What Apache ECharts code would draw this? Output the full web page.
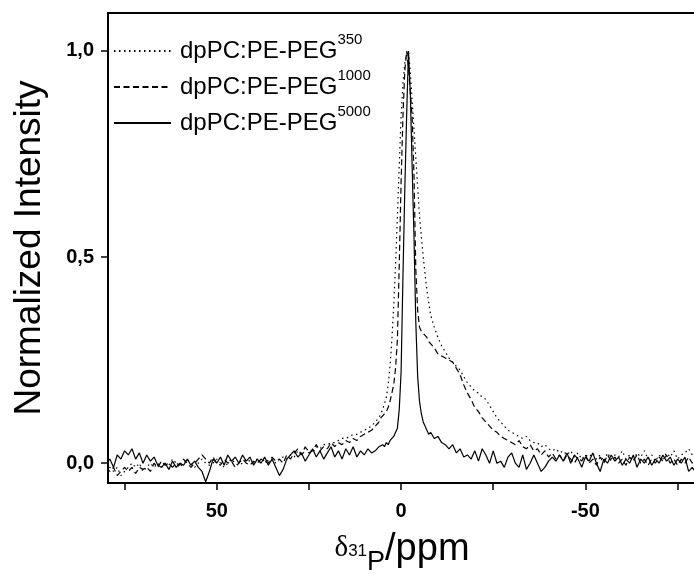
<!DOCTYPE html>
<html><head><meta charset="utf-8">
<script src="https://cdn.jsdelivr.net/npm/echarts@6/dist/echarts.min.js"></script>
<style>html,body{margin:0;padding:0;background:#fff}#c{width:694px;height:575px}</style>
</head><body><div id="c"></div>
<script>
// chemical shift axis (ppm), three segments
const ppmA = [80,79,78,77,76,75,74,73,72,71,70,69,68,67,66,65,64,63,62,61,60,59,58,57,56,55,54,53,52,51,50,49,48,47,46,45,44,43,42,41,40,39,38,37,36,35,34,33,32,31,30,29,28,27,26,25,24,23,22,21,20,19,18,17,16,15,14,13,12,11,10,9,8,7,6];
const ppmB = [5.5,5,4.5,4,3.5,3,2.5,2,1.5,1,0.5,0,-0.5,-1,-1.5,-2,-2.5,-3,-3.5,-4,-4.5,-5,-5.5,-6,-6.5,-7,-7.5,-8];
const ppmC = [-9,-10,-11,-12,-13,-14,-15,-16,-17,-18,-19,-20,-21,-22,-23,-24,-25,-26,-27,-28,-29,-30,-31,-32,-33,-34,-35,-36,-37,-38,-39,-40,-41,-42,-43,-44,-45,-46,-47,-48,-49,-50,-51,-52,-53,-54,-55,-56,-57,-58,-59,-60,-61,-62,-63,-64,-65,-66,-67,-68,-69,-70,-71,-72,-73,-74,-75,-76,-77,-78,-79,-80];

// dpPC:PE-PEG350 (dotted)
const peg350A = [0.00,-0.01,-0.02,-0.01,-0.03,-0.02,-0.01,0.00,-0.01,0.00,
 -0.02,-0.01,0.00,-0.01,0.00,-0.01,0.00,-0.005,0.01,0.00,
 -0.01,0.00,0.01,0.00,-0.01,0.00,0.01,0.00,-0.005,0.00,
 0.01,0.00,-0.01,0.00,0.01,0.00,-0.005,0.00,0.01,0.005,
 0.00,0.01,0.00,0.01,0.005,0.01,0.00,0.01,0.015,0.01,
 0.02,0.015,0.03,0.02,0.03,0.035,0.025,0.04,0.035,0.045,
 0.045,0.05,0.05,0.055,0.06,0.06,0.065,0.07,0.07,0.075,
 0.08,0.085,0.09,0.1,0.11];
const peg350B = [0.12,0.13,0.145,0.16,0.19,0.235,0.3,0.38,0.48,0.6,
 0.72,0.84,0.92,0.97,0.99,1.0,0.95,0.88,0.81,0.74,
 0.67,0.6,0.55,0.5,0.46,0.42,0.39,0.36];
const peg350C = [0.33,0.305,0.285,0.27,0.255,0.245,0.235,0.226,0.21,0.195,
 0.185,0.175,0.17,0.16,0.155,0.14,0.125,0.11,0.1,0.09,
 0.08,0.075,0.07,0.065,0.06,0.065,0.055,0.05,0.05,0.04,
 0.045,0.035,0.03,0.035,0.025,0.03,0.02,0.03,0.015,0.025,
 0.01,0.02,0.015,0.025,0.01,0.02,0.005,0.025,0.01,0.02,
 0.015,0.03,0.01,0.02,0.005,0.025,0.015,0.03,0.01,0.02,
 0.005,0.02,0.01,0.025,0.015,0.03,0.01,0.02,0.025,0.035,
 0.02,0.03];

// dpPC:PE-PEG1000 (dashed)
const peg1000A = [-0.01,-0.02,-0.01,-0.03,-0.02,-0.01,-0.02,-0.01,-0.025,-0.01,
 -0.015,-0.01,-0.02,0.00,-0.01,0.005,-0.005,0.00,-0.01,0.00,
 -0.005,0.01,0.00,-0.01,0.00,0.01,0.02,0.01,0.00,0.015,
 0.00,-0.005,0.01,0.00,0.005,-0.01,0.00,0.01,0.00,-0.005,
 0.005,0.00,0.01,0.005,0.00,0.015,0.005,0.01,0.00,0.02,
 0.01,0.025,0.035,0.02,0.04,0.025,0.03,0.045,0.03,0.04,
 0.035,0.05,0.04,0.05,0.045,0.055,0.05,0.06,0.055,0.065,
 0.07,0.075,0.08,0.09,0.1];
const peg1000B = [0.11,0.115,0.12,0.125,0.135,0.15,0.17,0.19,0.23,0.3,
 0.48,0.68,0.84,0.95,1.0,0.96,0.9,0.84,0.7,0.47,
 0.37,0.33,0.32,0.315,0.31,0.305,0.295,0.29];
const peg1000C = [0.28,0.265,0.26,0.255,0.25,0.245,0.23,0.215,0.19,0.17,
 0.155,0.135,0.125,0.11,0.1,0.09,0.08,0.075,0.065,0.06,
 0.055,0.05,0.045,0.055,0.04,0.035,0.045,0.03,0.035,0.02,
 0.03,0.015,0.025,0.01,0.02,0.005,0.02,0.01,0.0,0.015,
 0.005,0.02,0.0,0.01,-0.005,0.015,0.0,0.02,0.005,0.015,
 0.0,0.01,-0.005,0.015,0.005,0.02,0.0,0.01,-0.005,0.01,
 0.0,0.015,0.005,0.02,0.0,0.01,-0.005,0.01,0.0,0.015,
 0.0,0.01];

// dpPC:PE-PEG5000 (solid)
const peg5000A = [0.00,0.01,-0.01,0.02,0.01,0.03,0.02,0.035,0.01,0.025,
 0.00,0.02,0.005,0.015,-0.005,-0.01,0.00,-0.015,0.005,-0.01,
 0.00,-0.005,0.01,-0.005,0.005,-0.01,-0.02,-0.045,-0.02,0.01,
 0.00,0.015,-0.005,0.02,0.005,0.015,0.00,0.02,0.005,0.015,
 -0.005,0.01,0.00,0.015,-0.005,0.01,-0.01,-0.03,-0.015,0.01,
 0.02,0.03,0.015,0.025,0.005,0.02,0.035,0.015,0.03,0.01,
 0.025,0.04,0.015,0.03,0.01,0.035,0.02,0.04,0.015,0.03,
 0.02,0.035,0.025,0.03,0.04];
const peg5000B = [0.04,0.045,0.04,0.05,0.045,0.055,0.06,0.065,0.075,0.085,
 0.13,0.22,0.45,0.66,0.84,1.0,0.9,0.72,0.55,0.34,
 0.21,0.15,0.12,0.1,0.09,0.08,0.07,0.075];
const peg5000C = [0.06,0.065,0.05,0.045,0.035,0.045,0.025,0.035,0.015,0.02,
 0.01,0.03,0.005,0.035,0.02,0.0,0.03,0.0,0.005,-0.01,
 0.015,0.025,0.0,-0.01,0.02,-0.015,0.0,0.02,0.0,-0.02,
 -0.01,0.005,0.015,0.005,0.02,0.005,0.025,0.0,0.02,0.01,
 -0.01,0.015,0.005,0.025,0.0,-0.02,0.01,0.0,0.02,0.005,
 0.015,-0.005,0.01,0.0,0.02,-0.01,0.01,0.0,0.015,-0.005,
 0.01,0.0,0.02,0.005,0.015,-0.005,0.01,0.0,0.015,-0.02,
 -0.01,-0.025];

const seriesBase = ['dpPC:PE-PEG','dpPC:PE-PEG','dpPC:PE-PEG'];
const seriesSup = ['350','1000','5000'];
const xTickValues = [75,50,25,0,-25,-50,-75];
const xLabelValues = [50,0,-50];
const yLabelValues = [0,0.5,1];

const ppm = ppmA.concat(ppmB, ppmC);
const intensities = [
  peg350A.concat(peg350B, peg350C),
  peg1000A.concat(peg1000B, peg1000C),
  peg5000A.concat(peg5000B, peg5000C)
];
const dashes = [[1.5,3.5],[6,3.5],'solid'];
const names = seriesBase.map((b,i)=>b+seriesSup[i]);

const chart = echarts.init(document.getElementById('c'), null, {renderer:'canvas'});
chart.setOption({
  animation:false,
  backgroundColor:'#ffffff',
  grid:{left:108,right:-2,top:13,bottom:92,show:true,borderColor:'#000',borderWidth:2,outerBoundsMode:'none'},
  legend:{
    orient:'vertical', left:113, top:32, padding:0, itemGap:5,
    itemWidth:57, itemHeight:12,
    itemStyle:{opacity:0},
    data:names,
    formatter:function(n){const i=names.indexOf(n);return '{m|'+seriesBase[i]+'}{sup|'+seriesSup[i]+'}';},
    textStyle:{color:'#000',fontFamily:'Liberation Sans',fontSize:24,
      rich:{m:{fontFamily:'Liberation Sans',fontSize:24,lineHeight:38,padding:[0,0,0,4],color:'#000'},
            sup:{fontFamily:'Liberation Sans',fontSize:15,lineHeight:16,verticalAlign:'top',color:'#000'}}}
  },
  xAxis:{
    type:'value', inverse:true, min:-80, max:79.5,
    name:'{d|δ}{s|31}{p|P}{u|/ppm}', nameLocation:'middle', nameGap:47,
    nameTextStyle:{rich:{
      d:{fontFamily:'Liberation Serif',fontSize:29,lineHeight:29,verticalAlign:'top',padding:[4,0,0,0],color:'#000'},
      s:{fontFamily:'Liberation Sans',fontSize:17,lineHeight:17,verticalAlign:'top',padding:[13,0,0,0],color:'#000'},
      p:{fontFamily:'Liberation Sans',fontSize:27,lineHeight:27,verticalAlign:'top',padding:[19,0,0,0],color:'#000'},
      u:{fontFamily:'Liberation Sans',fontSize:38,lineHeight:38,verticalAlign:'top',padding:[1,0,0,0],color:'#000'}}},
    axisLine:{show:true,onZero:false,lineStyle:{color:'#000',width:2}},
    axisTick:{show:true,inside:false,length:7,customValues:xTickValues,lineStyle:{color:'#000',width:1.5}},
    axisLabel:{customValues:xLabelValues,margin:18,color:'#000',fontFamily:'Liberation Sans',fontWeight:'bold',fontSize:20,
      formatter:v=>String(v)},
    splitLine:{show:false}
  },
  yAxis:{
    type:'value', min:-0.048, max:1.092,
    name:'Normalized Intensity', nameLocation:'middle', nameGap:60,
    nameTextStyle:{fontFamily:'Liberation Sans',fontSize:37,color:'#000'},
    axisLine:{show:true,onZero:false,lineStyle:{color:'#000',width:2}},
    axisTick:{show:true,inside:false,length:7,customValues:yLabelValues,lineStyle:{color:'#000',width:1.5}},
    axisLabel:{customValues:yLabelValues,margin:14,color:'#000',fontFamily:'Liberation Sans',fontWeight:'bold',fontSize:20,
      formatter:v=>v.toFixed(1).replace('.',',')},
    splitLine:{show:false}
  },
  series:names.map((n,i)=>({
    name:n, type:'line', symbol:'none', showSymbol:false,
    data:ppm.map((x,k)=>[x,intensities[i][k]]),
    lineStyle:{color:'#000',width:1.2,type:dashes[i]},
    itemStyle:{color:'#000'},
    z:3-i
  }))
});
</script></body></html>
